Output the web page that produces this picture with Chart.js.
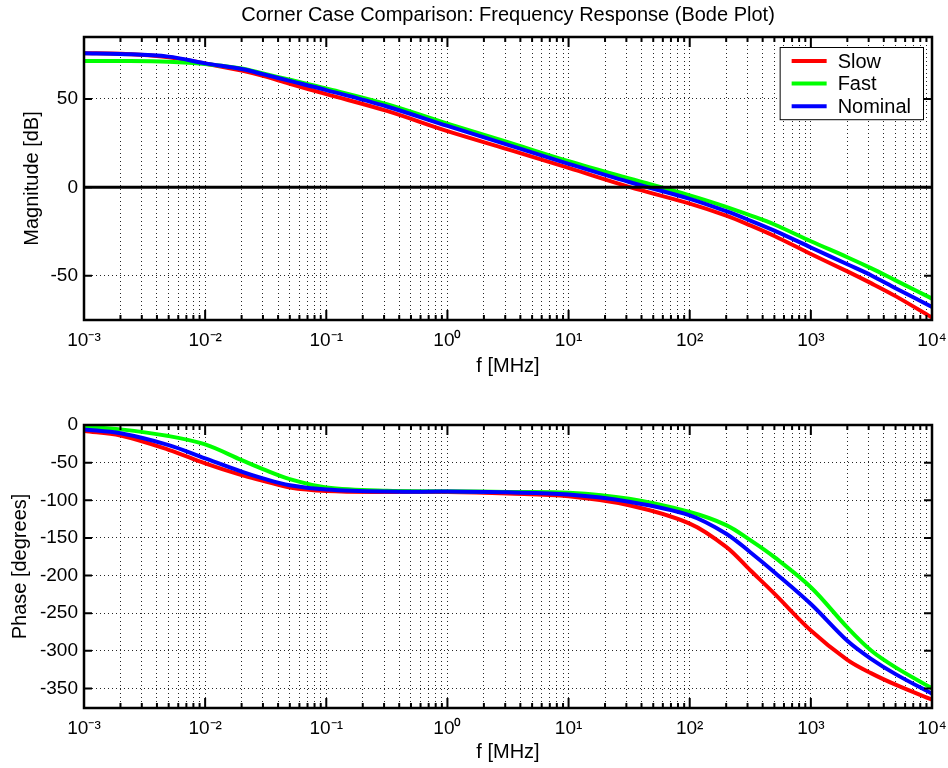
<!DOCTYPE html>
<html>
<head>
<meta charset="utf-8">
<script src="https://cdn.jsdelivr.net/npm/chart.js@4/dist/chart.umd.min.js"></script>
<style>
  html, body { margin: 0; padding: 0; background: #fff; }
  #wrap { position: relative; width: 948px; height: 768px; }
  .pane { position: absolute; left: 0; width: 948px; height: 384px; }
</style>
</head>
<body>
<div id="wrap">
  <div class="pane" style="top:0"><canvas id="mag" width="948" height="384"></canvas></div>
  <div class="pane" style="top:384px"><canvas id="phase" width="948" height="384"></canvas></div>
</div>
<script>
// ---------------- data ----------------
const freqMHz = [0.001, 0.002, 0.005, 0.01, 0.02, 0.03, 0.05, 0.1, 0.316, 1, 3.16, 10, 31.6, 100, 200, 316, 500, 1000, 2000, 3162, 5000, 10000];

const magSlow    = [75.8, 75.5, 73.6, 70.0, 66.0, 63.0, 58.5, 52.7, 43.2, 31.8, 21.5, 11.0, 0.3, -9.2, -16.0, -21.5, -27.5, -37.7, -47.5, -54.3, -61.5, -73.6];
const magFast    = [71.4, 71.4, 71.0, 69.8, 67.2, 64.4, 60.8, 55.9, 47.0, 36.0, 25.5, 14.8, 5.0, -4.5, -11.0, -15.8, -21.0, -30.5, -39.5, -45.8, -52.6, -62.9];
const magNominal = [75.8, 75.4, 73.9, 70.1, 66.9, 64.0, 60.2, 55.0, 45.7, 34.7, 24.0, 13.3, 3.0, -6.5, -13.5, -18.8, -24.5, -34.0, -43.5, -49.8, -57.0, -67.6];

const phaseSlow    = [-8, -14, -33, -51, -66.7, -74, -83, -87.6, -89, -89, -91, -94.7, -106.7, -131, -162, -193, -224, -273, -312, -330, -345, -365];
const phaseFast    = [-2.2, -5.8, -14.7, -25.8, -46.7, -58.7, -72, -83, -87.5, -88, -89, -90, -98, -115.6, -133, -153, -175.6, -215.6, -269, -300, -322, -349.7];
const phaseNominal = [-5.8, -11, -26.7, -44.4, -62, -71, -80, -85.8, -88.5, -88.5, -89.5, -92.4, -102, -120, -144.4, -169, -195.6, -237.8, -286.7, -311, -331, -357];

const seriesNames  = ['Slow', 'Fast', 'Nominal'];
const seriesColors = ['#ff0000', '#00ff00', '#0000ff'];

const xDecades    = [0.001, 0.01, 0.1, 1, 10, 100, 1000, 10000];
const xTickLabels = ['10⁻³', '10⁻²', '10⁻¹', '10⁰', '10¹', '10²', '10³', '10⁴'];
const minorSteps  = [2, 3, 4, 5, 6, 7, 8, 9];
const magTicks    = [-50, 0, 50];
const phaseTicks  = [-350, -300, -250, -200, -150, -100, -50, 0];

const titleText = 'Corner Case Comparison: Frequency Response (Bode Plot)';
const xTitle = 'f [MHz]';
const magTitle = 'Magnitude [dB]';
const phaseTitle = 'Phase [degrees]';

// ---------------- helpers ----------------
const FONT = "'Liberation Sans', Arial, Helvetica, sans-serif";
const FS = 19;     // tick labels
const FT = 20;     // titles, axis labels, legend
Chart.defaults.font.family = FONT;
Chart.defaults.font.size = FS;
Chart.defaults.color = '#000';

const xGridTicks = [];
xDecades.forEach((d, i) => {
  xGridTicks.push({ value: d, major: true });
  if (i < xDecades.length - 1) minorSteps.forEach(k => xGridTicks.push({ value: k * d, major: false }));
});

function decadeLabel(v) {
  const i = xDecades.findIndex(d => Math.abs(Math.log10(v) - Math.log10(d)) < 1e-6);
  return i >= 0 ? xTickLabels[i] : '';
}

function makeDatasets(values) {
  return values.map((vals, i) => ({
    label: seriesNames[i],
    data: vals.map((v, j) => ({ x: freqMHz[j], y: v })),
    borderColor: seriesColors[i],
    backgroundColor: seriesColors[i],
    borderWidth: 4,
    pointRadius: 0,
    tension: 0.35,
    fill: false,
    order: 3 - i
  }));
}

const GRID = 'rgba(0,0,0,0.85)';

function xScale(titlePadBottom, height) {
  return {
    type: 'logarithmic', min: 0.001, max: 10000, bounds: 'data',
    afterBuildTicks: s => { s.ticks = xGridTicks.map(t => ({ value: t.value, major: t.major })); },
    ticks: { autoSkip: false, maxRotation: 0, minRotation: 0, padding: 9, font: { size: FS }, color: '#000',
             callback: v => decadeLabel(v) },
    grid: { color: GRID, lineWidth: 1, drawTicks: false },
    border: { display: false, dash: [1, 3] },
    title: { display: true, text: xTitle, font: { size: FT }, color: '#000', padding: { top: 0, bottom: titlePadBottom } },
    afterFit: s => { s.height = height; s.paddingLeft = 0; s.paddingRight = 0; }
  };
}

function yScale(min, max, tickVals, title, titlePadTop) {
  return {
    type: 'linear', min: min, max: max, bounds: 'data',
    afterBuildTicks: s => { s.ticks = tickVals.map(v => ({ value: v })); },
    ticks: { padding: 6, font: { size: FS }, color: '#000', callback: v => String(v) },
    grid: { color: GRID, lineWidth: 1, drawTicks: false },
    border: { display: false, dash: [1, 3] },
    title: { display: true, text: title, font: { size: FT }, color: '#000', padding: { top: titlePadTop, bottom: 0 } },
    afterFit: s => { s.width = 84; }
  };
}

// MATLAB-like box, inward ticks and optional zero line
const matlabAxes = {
  id: 'matlabAxes',
  afterDatasetsDraw(chart, args, opts) {
    const { ctx, chartArea: a, scales: { x, y } } = chart;
    ctx.save();
    if (opts.zeroLine) {
      const py = y.getPixelForValue(0);
      ctx.beginPath();
      ctx.lineWidth = 3;
      ctx.strokeStyle = '#000';
      ctx.moveTo(a.left, py); ctx.lineTo(a.right, py);
      ctx.stroke();
    }
    ctx.lineWidth = 2;
    ctx.strokeStyle = '#000';
    x.ticks.forEach(t => {
      const px = x.getPixelForValue(t.value);
      const len = t.major ? 10 : 5;
      ctx.beginPath();
      ctx.moveTo(px, a.bottom); ctx.lineTo(px, a.bottom - len);
      ctx.moveTo(px, a.top); ctx.lineTo(px, a.top + len);
      ctx.stroke();
    });
    y.ticks.forEach(t => {
      const py = y.getPixelForValue(t.value);
      ctx.beginPath();
      ctx.moveTo(a.left, py); ctx.lineTo(a.left + 8, py);
      ctx.moveTo(a.right, py); ctx.lineTo(a.right - 8, py);
      ctx.stroke();
    });
    ctx.lineWidth = 2.5;
    ctx.strokeRect(a.left, a.top, a.right - a.left, a.bottom - a.top);
    ctx.restore();
  }
};

// boxed legend inside the top-right corner of the plot area
const boxLegend = {
  id: 'boxLegend',
  afterDraw(chart, args, opts) {
    if (!opts.show) return;
    const { ctx, chartArea: a } = chart;
    const ds = chart.data.datasets;
    ctx.save();
    ctx.font = FT + 'px ' + FONT;
    const maxW = Math.max(...ds.map(d => ctx.measureText(d.label).width));
    const padL = 12, lineLen = 35, gap = 11, padR = 12, rowH = 22.6, padT = 14;
    const w = padL + lineLen + gap + maxW + padR;
    const h = padT * 2 + rowH * (ds.length - 1) - 1;
    const right = a.right - 9, top = a.top + 10;
    const left = right - w;
    ctx.fillStyle = '#fff';
    ctx.fillRect(left, top, w, h);
    ctx.lineWidth = 1;
    ctx.strokeStyle = '#000';
    ctx.strokeRect(left + 0.5, top + 0.5, w, h);
    ds.forEach((d, i) => {
      const cy = top + padT + i * rowH;
      ctx.beginPath();
      ctx.lineWidth = 4;
      ctx.strokeStyle = d.borderColor;
      ctx.moveTo(left + padL, cy); ctx.lineTo(left + padL + lineLen, cy);
      ctx.stroke();
      ctx.fillStyle = '#000';
      ctx.textBaseline = 'middle';
      ctx.textAlign = 'left';
      ctx.fillText(d.label, left + padL + lineLen + gap, cy + 1);
    });
    ctx.restore();
  }
};

new Chart(document.getElementById('mag'), {
  type: 'line',
  data: { datasets: makeDatasets([magSlow, magFast, magNominal]) },
  options: {
    responsive: false, animation: false, devicePixelRatio: 1,
    layout: { padding: { left: 0, right: 16, top: 0, bottom: 0 } },
    scales: {
      x: xScale(6, 64),
      y: yScale(-75, 85, magTicks, magTitle, 20)
    },
    plugins: {
      legend: { display: false },
      tooltip: { enabled: false },
      title: { display: true, text: titleText, fullSize: false, color: '#000',
               font: { size: FT, weight: 'normal' }, padding: { top: 3.5, bottom: 9.5 } },
      matlabAxes: { zeroLine: true },
      boxLegend: { show: true }
    }
  },
  plugins: [matlabAxes, boxLegend]
});

new Chart(document.getElementById('phase'), {
  type: 'line',
  data: { datasets: makeDatasets([phaseSlow, phaseFast, phaseNominal]) },
  options: {
    responsive: false, animation: false, devicePixelRatio: 1,
    layout: { padding: { left: 0, right: 16, top: 41, bottom: 0 } },
    scales: {
      x: xScale(4, 60),
      y: yScale(-376, 0, phaseTicks, phaseTitle, 8)
    },
    plugins: {
      legend: { display: false },
      tooltip: { enabled: false },
      title: { display: false },
      matlabAxes: { zeroLine: false },
      boxLegend: { show: false }
    }
  },
  plugins: [matlabAxes, boxLegend]
});
</script>
</body>
</html>
